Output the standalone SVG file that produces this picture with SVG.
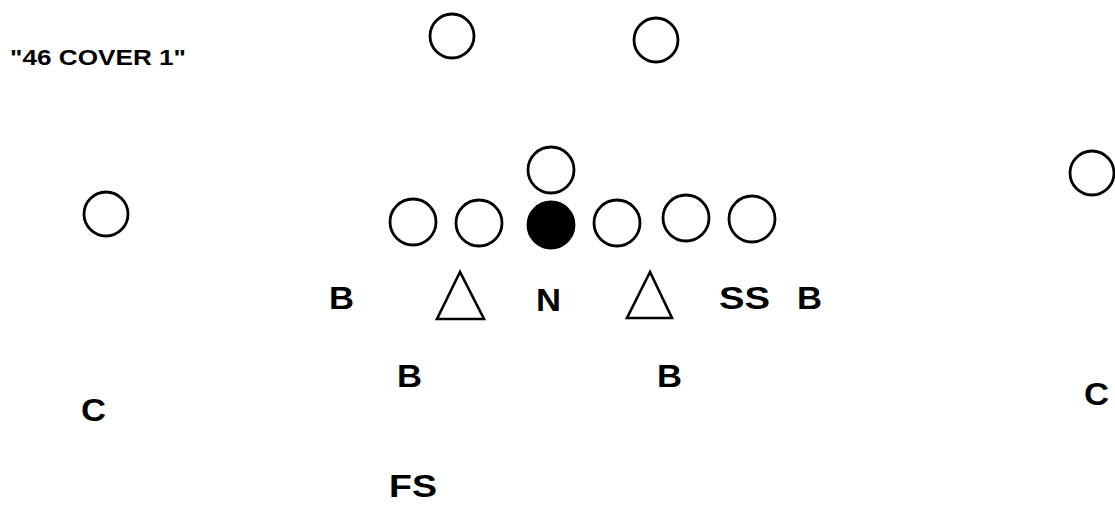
<svg xmlns="http://www.w3.org/2000/svg" width="1115" height="518" viewBox="0 0 1115 518">
<style>
.p{fill:#fff;stroke:#000;stroke-width:2.8}
.f{fill:#000;stroke:#000;stroke-width:2.8}
.t{fill:#fff;stroke:#000;stroke-width:2.6;stroke-linejoin:miter}
.l{font-family:"Liberation Sans",Arial,sans-serif;font-weight:bold;font-size:31px;fill:#000}
.h{font-family:"Liberation Sans",Arial,sans-serif;font-weight:bold;font-size:22px;fill:#000}
</style>
<rect width="1115" height="518" fill="#fff"/>
<g id="title"><text class="h" x="10" y="65" textLength="176" lengthAdjust="spacingAndGlyphs">"46 COVER 1"</text></g>
<g id="wr1"><circle class="p" cx="452" cy="36" r="22"/></g>
<g id="wr2"><circle class="p" cx="656" cy="40" r="22"/></g>
<g id="wr-left"><circle class="p" cx="106" cy="214" r="22"/></g>
<g id="wr-right"><circle class="p" cx="1092" cy="173" r="22"/></g>
<g id="qb"><circle class="p" cx="551" cy="170" r="23"/></g>
<g id="ol1"><circle class="p" cx="413" cy="222" r="23"/></g>
<g id="ol2"><circle class="p" cx="479" cy="223" r="23"/></g>
<g id="center"><circle class="f" cx="551" cy="225" r="23"/></g>
<g id="ol4"><circle class="p" cx="617" cy="223" r="23"/></g>
<g id="ol5"><circle class="p" cx="686" cy="218" r="23"/></g>
<g id="te"><circle class="p" cx="752" cy="219" r="23"/></g>
<g id="dt1"><polygon class="t" points="460,272 437,319 484,319"/></g>
<g id="dt2"><polygon class="t" points="650,272 627,318 672,318"/></g>
<g id="b1"><text class="l" x="329" y="309" textLength="25" lengthAdjust="spacingAndGlyphs">B</text></g>
<g id="n"><text class="l" x="536" y="311" textLength="25" lengthAdjust="spacingAndGlyphs">N</text></g>
<g id="ss"><text class="l" x="719" y="309" textLength="51" lengthAdjust="spacingAndGlyphs">SS</text></g>
<g id="b2"><text class="l" x="797" y="309" textLength="25" lengthAdjust="spacingAndGlyphs">B</text></g>
<g id="b3"><text class="l" x="397" y="387" textLength="25" lengthAdjust="spacingAndGlyphs">B</text></g>
<g id="b4"><text class="l" x="657" y="387" textLength="25" lengthAdjust="spacingAndGlyphs">B</text></g>
<g id="c1"><text class="l" x="81" y="421" textLength="25" lengthAdjust="spacingAndGlyphs">C</text></g>
<g id="c2"><text class="l" x="1084" y="405" textLength="25" lengthAdjust="spacingAndGlyphs">C</text></g>
<g id="fs"><text class="l" x="389" y="497" textLength="48" lengthAdjust="spacingAndGlyphs">FS</text></g>
<g id="connectors"/>
</svg>
